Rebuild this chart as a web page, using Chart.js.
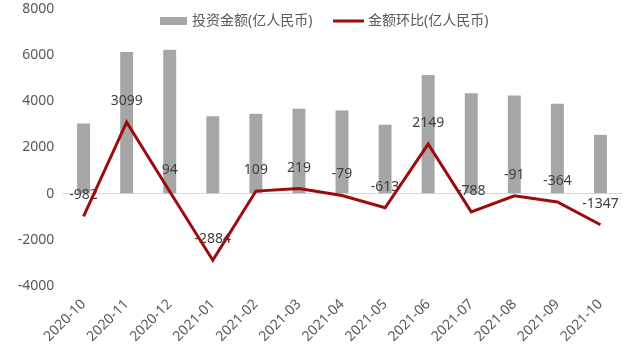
<!DOCTYPE html>
<html>
<head>
<meta charset="utf-8">
<script src="https://cdn.jsdelivr.net/npm/chart.js@4"></script>
<style>
  html, body { margin: 0; padding: 0; background: #fff; }
  #wrap { width: 640px; height: 347px; }
</style>
</head>
<body>
<div id="wrap"><canvas id="chart"></canvas></div>
<script>
// data
var months = ['2020-10', '2020-11', '2020-12', '2021-01', '2021-02', '2021-03', '2021-04',
    '2021-05', '2021-06', '2021-07', '2021-08', '2021-09', '2021-10'];
var amount = [3041, 6140, 6234, 3350, 3459, 3678, 3599, 2986, 5135, 4347, 4256, 3892, 2545];
var change = [-982, 3099, 94, -2884, 109, 219, -79, -613, 2149, -788, -91, -364, -1347];
var yTicks = [-4000, -2000, 0, 2000, 4000, 6000, 8000];

var FONT = '"Noto Sans", "Noto Sans CJK SC", sans-serif';
var BAR_COLOR = '#a6a6a6';
var LINE_COLOR = '#9c0c0c';

// value labels, drawn under the line but over the bars
var lineLabels = {
    id: 'lineLabels',
    beforeDatasetDraw: function (chart, args) {
        if (args.index !== 1) {
            return;
        }
        var ctx = chart.ctx;
        var meta = chart.getDatasetMeta(1);
        ctx.save();
        ctx.font = '14px ' + FONT;
        ctx.fillStyle = '#404040';
        ctx.textAlign = 'center';
        ctx.textBaseline = 'middle';
        meta.data.forEach(function (pt, i) {
            ctx.fillText(String(change[i]), pt.x, pt.y - 21);
        });
        ctx.restore();
    }
};

// legend sits inside the plot area, so draw it by hand
var insideLegend = {
    id: 'insideLegend',
    afterDraw: function (chart) {
        var ctx = chart.ctx;
        var ds = chart.data.datasets;
        var y = 21;
        ctx.save();
        ctx.font = '14px ' + FONT;
        ctx.textBaseline = 'middle';

        ctx.fillStyle = BAR_COLOR;
        ctx.fillRect(160, y - 4, 27, 8);
        ctx.fillStyle = '#595959';
        ctx.fillText(ds[0].label, 192, y);

        ctx.strokeStyle = LINE_COLOR;
        ctx.lineWidth = 3;
        ctx.beginPath();
        ctx.moveTo(333, y);
        ctx.lineTo(364, y);
        ctx.stroke();
        ctx.fillText(ds[1].label, 368, y);
        ctx.restore();
    }
};

var ctx = document.getElementById('chart');
var chart = new Chart(ctx, {
    type: 'bar',
    data: {
        labels: months,
        datasets: [
            {
                type: 'bar',
                label: '投资金额(亿人民币)',
                data: amount,
                backgroundColor: BAR_COLOR,
                categoryPercentage: 1,
                barPercentage: 0.3,
                order: 2
            },
            {
                type: 'line',
                label: '金额环比(亿人民币)',
                data: change,
                borderColor: LINE_COLOR,
                backgroundColor: LINE_COLOR,
                borderWidth: 3,
                pointRadius: 0,
                tension: 0,
                order: 1
            }
        ]
    },
    plugins: [lineLabels, insideLegend],
    options: {
        responsive: true,
        maintainAspectRatio: false,
        animation: false,
        layout: {
            padding: {left: 10, right: 18, top: 9, bottom: 0}
        },
        plugins: {
            tooltip: {enabled: false},
            legend: {display: false}
        },
        scales: {
            x: {
                grid: {display: false},
                border: {display: false},
                afterFit: function (scale) {
                    scale.paddingLeft = 0;
                    scale.paddingRight = 0;
                },
                ticks: {
                    color: '#595959',
                    font: {family: FONT, size: 14},
                    minRotation: 45,
                    maxRotation: 45,
                    padding: 2
                }
            },
            y: {
                min: yTicks[0],
                max: yTicks[yTicks.length - 1],
                afterBuildTicks: function (axis) {
                    axis.ticks = yTicks.map(function (v) { return {value: v}; });
                },
                afterFit: function (scale) {
                    scale.paddingTop = 0;
                    scale.paddingBottom = 0;
                },
                border: {display: false},
                grid: {
                    drawTicks: false,
                    color: function (c) {
                        return c.tick && c.tick.value === 0 ? '#d9d9d9' : 'rgba(0,0,0,0)';
                    }
                },
                ticks: {
                    color: '#595959',
                    font: {family: FONT, size: 14},
                    padding: 7.75,
                    callback: function (v) { return String(v); }
                }
            }
        }
    }
});
</script>
</body>
</html>
